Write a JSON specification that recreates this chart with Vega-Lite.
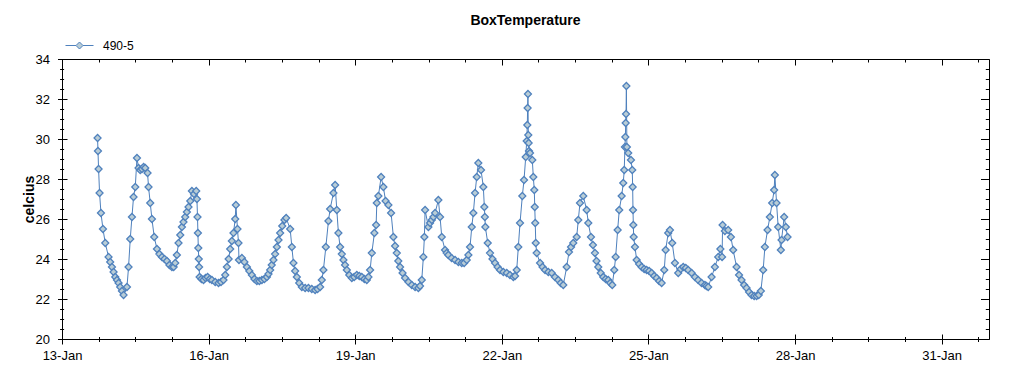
{
"$schema": "https://vega.github.io/schema/vega-lite/v6.json",
"autosize": {"type": "none"},
"padding": {"left": 62, "top": 59, "right": 35, "bottom": 36},
"width": 927, "height": 280,
"title": {"text": "BoxTemperature", "fontSize": 14, "fontWeight": "bold", "font": "Liberation Sans", "color": "#000000", "anchor": "middle", "offset": 3},
"config": {
  "view": {"stroke": "#000000", "strokeWidth": 1},
  "axis": {"grid": false, "domain": false, "tickColor": "#000000", "tickWidth": 1, "labelColor": "#000000", "labelFont": "Liberation Sans", "labelFontSize": 13, "titleFont": "Liberation Sans", "titleColor": "#000000"},
  "font": "Liberation Sans"
},
"data": {"values": [
{"t":"2020-01-13T17:28Z","v":30.05},{"t":"2020-01-13T17:40Z","v":29.4},{"t":"2020-01-13T17:58Z","v":28.5},{"t":"2020-01-13T18:27Z","v":27.3},{"t":"2020-01-13T19:08Z","v":26.3},{"t":"2020-01-13T20:07Z","v":25.5},{"t":"2020-01-13T21:15Z","v":24.8},{"t":"2020-01-13T22:52Z","v":24.1},{"t":"2020-01-13T23:40Z","v":23.85},
{"t":"2020-01-14T00:32Z","v":23.6},{"t":"2020-01-14T01:20Z","v":23.35},{"t":"2020-01-14T02:10Z","v":23.1},{"t":"2020-01-14T03:00Z","v":22.95},{"t":"2020-01-14T03:47Z","v":22.8},{"t":"2020-01-14T04:35Z","v":22.6},{"t":"2020-01-14T05:27Z","v":22.4},{"t":"2020-01-14T06:14Z","v":22.2},{"t":"2020-01-14T07:54Z","v":22.6},{"t":"2020-01-14T08:41Z","v":23.6},{"t":"2020-01-14T09:31Z","v":25.0},{"t":"2020-01-14T10:21Z","v":26.1},{"t":"2020-01-14T11:08Z","v":27.1},{"t":"2020-01-14T11:59Z","v":27.6},{"t":"2020-01-14T12:49Z","v":29.05},{"t":"2020-01-14T13:36Z","v":28.55},{"t":"2020-01-14T14:25Z","v":28.45},{"t":"2020-01-14T15:16Z","v":28.5},{"t":"2020-01-14T16:05Z","v":28.6},{"t":"2020-01-14T16:53Z","v":28.55},{"t":"2020-01-14T18:01Z","v":28.3},{"t":"2020-01-14T18:30Z","v":27.6},{"t":"2020-01-14T19:20Z","v":26.8},{"t":"2020-01-14T20:10Z","v":26.0},{"t":"2020-01-14T21:18Z","v":25.1},{"t":"2020-01-14T22:38Z","v":24.5},{"t":"2020-01-14T23:50Z","v":24.25},
{"t":"2020-01-15T01:05Z","v":24.1},{"t":"2020-01-15T02:20Z","v":24.0},{"t":"2020-01-15T03:32Z","v":23.9},{"t":"2020-01-15T04:45Z","v":23.7},{"t":"2020-01-15T05:59Z","v":23.6},{"t":"2020-01-15T06:50Z","v":23.6},{"t":"2020-01-15T07:37Z","v":23.8},{"t":"2020-01-15T08:25Z","v":24.2},{"t":"2020-01-15T09:14Z","v":24.8},{"t":"2020-01-15T10:05Z","v":25.2},{"t":"2020-01-15T10:54Z","v":25.6},{"t":"2020-01-15T11:40Z","v":25.85},{"t":"2020-01-15T12:31Z","v":26.1},{"t":"2020-01-15T13:20Z","v":26.35},{"t":"2020-01-15T14:08Z","v":26.6},{"t":"2020-01-15T15:00Z","v":26.9},{"t":"2020-01-15T15:48Z","v":27.4},{"t":"2020-01-15T16:50Z","v":27.25},{"t":"2020-01-15T17:55Z","v":27.4},{"t":"2020-01-15T18:16Z","v":27.0},{"t":"2020-01-15T18:33Z","v":26.1},{"t":"2020-01-15T18:45Z","v":25.3},{"t":"2020-01-15T18:57Z","v":24.55},{"t":"2020-01-15T19:10Z","v":24.0},{"t":"2020-01-15T19:20Z","v":23.6},{"t":"2020-01-15T19:35Z","v":23.1},{"t":"2020-01-15T20:30Z","v":23.0},{"t":"2020-01-15T21:30Z","v":22.95},{"t":"2020-01-15T22:30Z","v":23.05},{"t":"2020-01-15T23:30Z","v":23.1},
{"t":"2020-01-16T00:35Z","v":23.0},{"t":"2020-01-16T01:37Z","v":22.95},{"t":"2020-01-16T03:15Z","v":22.85},{"t":"2020-01-16T04:52Z","v":22.8},{"t":"2020-01-16T06:05Z","v":22.85},{"t":"2020-01-16T07:19Z","v":22.95},{"t":"2020-01-16T08:10Z","v":23.2},{"t":"2020-01-16T08:59Z","v":23.6},{"t":"2020-01-16T09:50Z","v":24.0},{"t":"2020-01-16T10:36Z","v":24.5},{"t":"2020-01-16T11:25Z","v":24.9},{"t":"2020-01-16T12:13Z","v":25.3},{"t":"2020-01-16T13:04Z","v":26.0},{"t":"2020-01-16T13:24Z","v":26.7},{"t":"2020-01-16T14:11Z","v":25.5},{"t":"2020-01-16T14:41Z","v":24.8},{"t":"2020-01-16T14:55Z","v":23.95},{"t":"2020-01-16T16:21Z","v":24.05},{"t":"2020-01-16T17:35Z","v":23.85},{"t":"2020-01-16T18:48Z","v":23.6},{"t":"2020-01-16T20:00Z","v":23.4},{"t":"2020-01-16T21:15Z","v":23.2},{"t":"2020-01-16T22:30Z","v":23.0},{"t":"2020-01-16T23:42Z","v":22.9},
{"t":"2020-01-17T00:55Z","v":22.9},{"t":"2020-01-17T02:10Z","v":22.95},{"t":"2020-01-17T03:25Z","v":23.0},{"t":"2020-01-17T04:37Z","v":23.1},{"t":"2020-01-17T05:25Z","v":23.25},{"t":"2020-01-17T06:14Z","v":23.45},{"t":"2020-01-17T07:00Z","v":23.7},{"t":"2020-01-17T07:51Z","v":23.95},{"t":"2020-01-17T08:40Z","v":24.25},{"t":"2020-01-17T09:31Z","v":24.6},{"t":"2020-01-17T10:20Z","v":24.95},{"t":"2020-01-17T11:08Z","v":25.3},{"t":"2020-01-17T12:10Z","v":25.65},{"t":"2020-01-17T13:15Z","v":25.95},{"t":"2020-01-17T14:05Z","v":26.05},{"t":"2020-01-17T16:03Z","v":25.5},{"t":"2020-01-17T16:53Z","v":24.6},{"t":"2020-01-17T17:40Z","v":23.8},{"t":"2020-01-17T18:30Z","v":23.4},{"t":"2020-01-17T19:20Z","v":23.1},{"t":"2020-01-17T20:30Z","v":22.8},{"t":"2020-01-17T21:47Z","v":22.6},{"t":"2020-01-17T23:25Z","v":22.55},
{"t":"2020-01-18T01:02Z","v":22.55},{"t":"2020-01-18T02:40Z","v":22.5},{"t":"2020-01-18T04:19Z","v":22.45},{"t":"2020-01-18T05:30Z","v":22.5},{"t":"2020-01-18T06:46Z","v":22.6},{"t":"2020-01-18T07:35Z","v":22.95},{"t":"2020-01-18T08:23Z","v":23.45},{"t":"2020-01-18T09:34Z","v":24.6},{"t":"2020-01-18T10:51Z","v":25.9},{"t":"2020-01-18T11:41Z","v":26.5},{"t":"2020-01-18T13:18Z","v":27.3},{"t":"2020-01-18T14:08Z","v":27.7},{"t":"2020-01-18T14:58Z","v":26.45},{"t":"2020-01-18T15:45Z","v":25.3},{"t":"2020-01-18T16:35Z","v":24.6},{"t":"2020-01-18T17:25Z","v":24.25},{"t":"2020-01-18T18:13Z","v":23.95},{"t":"2020-01-18T19:00Z","v":23.7},{"t":"2020-01-18T19:53Z","v":23.45},{"t":"2020-01-18T21:05Z","v":23.2},{"t":"2020-01-18T22:20Z","v":23.05},{"t":"2020-01-18T23:30Z","v":23.1},
{"t":"2020-01-19T00:47Z","v":23.2},{"t":"2020-01-19T02:00Z","v":23.15},{"t":"2020-01-19T03:14Z","v":23.1},{"t":"2020-01-19T04:30Z","v":23.0},{"t":"2020-01-19T05:41Z","v":22.95},{"t":"2020-01-19T06:30Z","v":23.1},{"t":"2020-01-19T07:19Z","v":23.45},{"t":"2020-01-19T08:09Z","v":24.3},{"t":"2020-01-19T09:25Z","v":25.3},{"t":"2020-01-19T10:16Z","v":25.7},{"t":"2020-01-19T10:36Z","v":26.8},{"t":"2020-01-19T11:23Z","v":27.15},{"t":"2020-01-19T12:43Z","v":28.1},{"t":"2020-01-19T13:50Z","v":27.6},{"t":"2020-01-19T14:55Z","v":26.9},{"t":"2020-01-19T16:18Z","v":26.7},{"t":"2020-01-19T17:37Z","v":26.3},{"t":"2020-01-19T18:45Z","v":25.1},{"t":"2020-01-19T19:35Z","v":24.65},{"t":"2020-01-19T20:25Z","v":24.3},{"t":"2020-01-19T21:10Z","v":23.9},{"t":"2020-01-19T22:02Z","v":23.6},{"t":"2020-01-19T23:15Z","v":23.3},
{"t":"2020-01-20T00:29Z","v":23.05},{"t":"2020-01-20T02:10Z","v":22.85},{"t":"2020-01-20T03:47Z","v":22.7},{"t":"2020-01-20T05:25Z","v":22.6},{"t":"2020-01-20T07:01Z","v":22.55},{"t":"2020-01-20T07:50Z","v":22.65},{"t":"2020-01-20T08:41Z","v":22.95},{"t":"2020-01-20T09:28Z","v":24.1},{"t":"2020-01-20T09:58Z","v":25.1},{"t":"2020-01-20T10:19Z","v":26.45},{"t":"2020-01-20T11:56Z","v":25.6},{"t":"2020-01-20T12:45Z","v":25.8},{"t":"2020-01-20T13:36Z","v":25.95},{"t":"2020-01-20T14:25Z","v":26.1},{"t":"2020-01-20T15:13Z","v":26.3},{"t":"2020-01-20T16:50Z","v":26.95},{"t":"2020-01-20T17:40Z","v":26.1},{"t":"2020-01-20T18:30Z","v":25.1},{"t":"2020-01-20T20:07Z","v":24.45},{"t":"2020-01-20T20:55Z","v":24.3},{"t":"2020-01-20T21:44Z","v":24.2},{"t":"2020-01-20T23:20Z","v":24.05},
{"t":"2020-01-21T01:02Z","v":23.95},{"t":"2020-01-21T02:40Z","v":23.85},{"t":"2020-01-21T04:19Z","v":23.8},{"t":"2020-01-21T05:30Z","v":23.8},{"t":"2020-01-21T06:46Z","v":23.95},{"t":"2020-01-21T07:35Z","v":24.2},{"t":"2020-01-21T08:23Z","v":24.6},{"t":"2020-01-21T09:14Z","v":25.6},{"t":"2020-01-21T10:01Z","v":26.3},{"t":"2020-01-21T10:51Z","v":27.3},{"t":"2020-01-21T11:41Z","v":28.1},{"t":"2020-01-21T12:28Z","v":28.8},{"t":"2020-01-21T13:47Z","v":28.45},{"t":"2020-01-21T14:55Z","v":27.6},{"t":"2020-01-21T15:25Z","v":26.6},{"t":"2020-01-21T15:40Z","v":26.1},{"t":"2020-01-21T15:55Z","v":25.6},{"t":"2020-01-21T17:05Z","v":24.8},{"t":"2020-01-21T18:12Z","v":24.3},{"t":"2020-01-21T19:25Z","v":24.0},{"t":"2020-01-21T20:40Z","v":23.8},{"t":"2020-01-21T21:55Z","v":23.6},{"t":"2020-01-21T23:07Z","v":23.45},
{"t":"2020-01-22T00:45Z","v":23.35},{"t":"2020-01-22T02:25Z","v":23.3},{"t":"2020-01-22T04:00Z","v":23.2},{"t":"2020-01-22T05:39Z","v":23.1},{"t":"2020-01-22T06:30Z","v":23.15},{"t":"2020-01-22T07:19Z","v":23.45},{"t":"2020-01-22T08:06Z","v":24.6},{"t":"2020-01-22T08:56Z","v":25.8},{"t":"2020-01-22T10:04Z","v":27.15},{"t":"2020-01-22T10:54Z","v":27.95},{"t":"2020-01-22T11:44Z","v":29.1},{"t":"2020-01-22T12:13Z","v":29.9},{"t":"2020-01-22T12:31Z","v":30.7},{"t":"2020-01-22T12:40Z","v":31.55},{"t":"2020-01-22T12:50Z","v":32.25},{"t":"2020-01-22T13:00Z","v":30.2},{"t":"2020-01-22T13:10Z","v":29.8},{"t":"2020-01-22T13:20Z","v":29.4},{"t":"2020-01-22T13:50Z","v":29.3},{"t":"2020-01-22T14:58Z","v":28.95},{"t":"2020-01-22T15:28Z","v":28.1},{"t":"2020-01-22T15:57Z","v":27.45},{"t":"2020-01-22T16:10Z","v":26.6},{"t":"2020-01-22T16:25Z","v":25.8},{"t":"2020-01-22T16:40Z","v":24.8},{"t":"2020-01-22T17:07Z","v":24.3},{"t":"2020-01-22T18:47Z","v":23.8},{"t":"2020-01-22T20:00Z","v":23.6},{"t":"2020-01-22T21:14Z","v":23.45},{"t":"2020-01-22T22:50Z","v":23.35},
{"t":"2020-01-23T00:29Z","v":23.3},{"t":"2020-01-23T02:05Z","v":23.1},{"t":"2020-01-23T03:44Z","v":22.95},{"t":"2020-01-23T04:55Z","v":22.8},{"t":"2020-01-23T06:11Z","v":22.7},{"t":"2020-01-23T07:51Z","v":23.6},{"t":"2020-01-23T08:59Z","v":24.35},{"t":"2020-01-23T10:00Z","v":24.6},{"t":"2020-01-23T11:05Z","v":24.8},{"t":"2020-01-23T12:46Z","v":25.1},{"t":"2020-01-23T13:33Z","v":25.95},{"t":"2020-01-23T14:23Z","v":26.8},{"t":"2020-01-23T16:00Z","v":27.15},{"t":"2020-01-23T17:40Z","v":26.45},{"t":"2020-01-23T18:28Z","v":25.8},{"t":"2020-01-23T19:47Z","v":25.1},{"t":"2020-01-23T20:45Z","v":24.7},{"t":"2020-01-23T21:44Z","v":24.3},{"t":"2020-01-23T22:30Z","v":23.9},{"t":"2020-01-23T23:22Z","v":23.6},
{"t":"2020-01-24T00:35Z","v":23.3},{"t":"2020-01-24T01:49Z","v":23.1},{"t":"2020-01-24T03:00Z","v":23.0},{"t":"2020-01-24T04:16Z","v":22.95},{"t":"2020-01-24T05:15Z","v":22.8},{"t":"2020-01-24T06:14Z","v":22.7},{"t":"2020-01-24T07:13Z","v":23.45},{"t":"2020-01-24T07:54Z","v":24.1},{"t":"2020-01-24T08:53Z","v":25.45},{"t":"2020-01-24T09:40Z","v":26.45},{"t":"2020-01-24T10:51Z","v":27.15},{"t":"2020-01-24T11:38Z","v":27.8},{"t":"2020-01-24T12:07Z","v":28.45},{"t":"2020-01-24T12:28Z","v":29.6},{"t":"2020-01-24T12:40Z","v":30.1},{"t":"2020-01-24T12:50Z","v":30.8},{"t":"2020-01-24T13:00Z","v":31.25},{"t":"2020-01-24T13:10Z","v":32.65},{"t":"2020-01-24T13:25Z","v":29.6},{"t":"2020-01-24T14:05Z","v":29.3},{"t":"2020-01-24T15:25Z","v":28.95},{"t":"2020-01-24T16:03Z","v":28.45},{"t":"2020-01-24T16:15Z","v":27.6},{"t":"2020-01-24T16:25Z","v":26.45},{"t":"2020-01-24T16:35Z","v":25.7},{"t":"2020-01-24T16:45Z","v":25.1},{"t":"2020-01-24T17:23Z","v":24.6},{"t":"2020-01-24T18:13Z","v":23.95},{"t":"2020-01-24T19:25Z","v":23.75},{"t":"2020-01-24T20:40Z","v":23.6},{"t":"2020-01-24T21:55Z","v":23.5},{"t":"2020-01-24T23:07Z","v":23.45},
{"t":"2020-01-25T00:20Z","v":23.4},{"t":"2020-01-25T01:34Z","v":23.3},{"t":"2020-01-25T02:50Z","v":23.15},{"t":"2020-01-25T04:02Z","v":23.05},{"t":"2020-01-25T05:15Z","v":22.9},{"t":"2020-01-25T06:29Z","v":22.8},{"t":"2020-01-25T07:46Z","v":23.45},{"t":"2020-01-25T08:27Z","v":24.45},{"t":"2020-01-25T09:43Z","v":25.3},{"t":"2020-01-25T10:34Z","v":25.45},{"t":"2020-01-25T11:41Z","v":24.8},{"t":"2020-01-25T13:01Z","v":23.8},{"t":"2020-01-25T14:38Z","v":23.3},{"t":"2020-01-25T15:50Z","v":23.5},{"t":"2020-01-25T17:05Z","v":23.6},{"t":"2020-01-25T18:20Z","v":23.55},{"t":"2020-01-25T19:32Z","v":23.45},{"t":"2020-01-25T21:12Z","v":23.3},{"t":"2020-01-25T22:50Z","v":23.1},
{"t":"2020-01-26T00:26Z","v":22.95},{"t":"2020-01-26T02:05Z","v":22.8},{"t":"2020-01-26T03:44Z","v":22.7},{"t":"2020-01-26T04:30Z","v":22.65},{"t":"2020-01-26T05:21Z","v":22.6},{"t":"2020-01-26T07:01Z","v":23.1},{"t":"2020-01-26T08:38Z","v":23.6},{"t":"2020-01-26T10:16Z","v":24.1},{"t":"2020-01-26T11:20Z","v":24.5},{"t":"2020-01-26T12:10Z","v":24.1},{"t":"2020-01-26T12:25Z","v":25.7},{"t":"2020-01-26T13:33Z","v":25.4},{"t":"2020-01-26T15:10Z","v":25.45},{"t":"2020-01-26T16:30Z","v":25.1},{"t":"2020-01-26T17:37Z","v":24.45},{"t":"2020-01-26T19:17Z","v":23.6},{"t":"2020-01-26T20:30Z","v":23.2},{"t":"2020-01-26T21:44Z","v":22.95},{"t":"2020-01-26T23:00Z","v":22.7},
{"t":"2020-01-27T00:12Z","v":22.55},{"t":"2020-01-27T01:25Z","v":22.35},{"t":"2020-01-27T02:39Z","v":22.2},{"t":"2020-01-27T03:55Z","v":22.15},{"t":"2020-01-27T05:07Z","v":22.15},{"t":"2020-01-27T06:10Z","v":22.2},{"t":"2020-01-27T07:13Z","v":22.4},{"t":"2020-01-27T08:21Z","v":23.45},{"t":"2020-01-27T09:11Z","v":24.6},{"t":"2020-01-27T10:30Z","v":25.45},{"t":"2020-01-27T11:38Z","v":26.1},{"t":"2020-01-27T12:46Z","v":26.8},{"t":"2020-01-27T13:44Z","v":27.45},{"t":"2020-01-27T14:05Z","v":28.2},{"t":"2020-01-27T14:55Z","v":26.8},{"t":"2020-01-27T15:43Z","v":25.6},{"t":"2020-01-27T17:02Z","v":24.45},{"t":"2020-01-27T17:23Z","v":24.95},{"t":"2020-01-27T18:39Z","v":26.1},{"t":"2020-01-27T19:29Z","v":25.6},{"t":"2020-01-27T20:19Z","v":25.1}
]},
"layer": [
{
  "mark": {"type": "line", "strokeWidth": 1, "clip": true},
  "encoding": {
    "x": {"field": "t", "type": "temporal",
      "scale": {"type": "utc", "domain": [{"year": 2020, "month": 1, "date": 13, "utc": true}, {"year": 2020, "month": 1, "date": 31, "hours": 23, "minutes": 15, "utc": true}]},
      "axis": {"orient": "bottom", "offset": -5, "tickSize": 10, "labelPadding": 5, "labelFlush": false, "labelOverlap": false, "labelExpr": "utcFormat(datum.value, '%-d-%b')", "title": null,
        "values": [{"year":2020,"month":1,"date":13,"utc":true},{"year":2020,"month":1,"date":16,"utc":true},{"year":2020,"month":1,"date":19,"utc":true},{"year":2020,"month":1,"date":22,"utc":true},{"year":2020,"month":1,"date":25,"utc":true},{"year":2020,"month":1,"date":28,"utc":true},{"year":2020,"month":1,"date":31,"utc":true}]}},
    "y": {"field": "v", "type": "quantitative",
      "scale": {"domain": [20, 34], "nice": false, "zero": false},
      "axis": {"orient": "left", "offset": -5, "tickSize": 9.5, "labelPadding": 8, "values": [20, 22, 24, 26, 28, 30, 32, 34], "title": "celcius", "titleFontSize": 14, "titleFontWeight": "bold", "titleX": -34, "titleBaseline": "alphabetic", "titleAngle": 270}},
    "color": {"datum": "490-5", "type": "nominal", "scale": {"range": ["#4f81bd"]},
      "legend": {"title": null, "orient": "none", "legendX": 3, "legendY": -28, "padding": 0,
        "symbolType": "M-1,0H-0.25M0.25,0H1M0,-0.25L0.25,0L0,0.25L-0.25,0Z", "symbolSize": 784, "symbolStrokeWidth": 1,
        "symbolFillColor": "#b9cdd6", "symbolStrokeColor": "#4f81bd", "labelFont": "Liberation Sans", "labelFontSize": 12, "labelColor": "#000000", "labelOffset": 9,
        "encode": {"symbols": {"update": {"fill": {"value": "#b9cdd6"}, "stroke": {"value": "#4f81bd"}, "strokeWidth": {"value": 1}, "opacity": {"value": 1}}}}}}
  }
},
{
  "mark": {"type": "point", "shape": "diamond", "filled": true, "fill": "#b9cdd6", "stroke": "#4f81bd", "strokeWidth": 1.2, "size": 50, "opacity": 1, "clip": true},
  "encoding": {
    "x": {"field": "t", "type": "temporal",
      "axis": {"orient": "bottom", "offset": -2.5, "tickSize": 5, "labels": false, "title": null,
        "values": [{"year":2020,"month":1,"date":13,"hours":18,"utc":true},{"year":2020,"month":1,"date":14,"hours":12,"utc":true},{"year":2020,"month":1,"date":15,"hours":6,"utc":true},{"year":2020,"month":1,"date":16,"hours":18,"utc":true},{"year":2020,"month":1,"date":17,"hours":12,"utc":true},{"year":2020,"month":1,"date":18,"hours":6,"utc":true},{"year":2020,"month":1,"date":19,"hours":18,"utc":true},{"year":2020,"month":1,"date":20,"hours":12,"utc":true},{"year":2020,"month":1,"date":21,"hours":6,"utc":true},{"year":2020,"month":1,"date":22,"hours":18,"utc":true},{"year":2020,"month":1,"date":23,"hours":12,"utc":true},{"year":2020,"month":1,"date":24,"hours":6,"utc":true},{"year":2020,"month":1,"date":25,"hours":18,"utc":true},{"year":2020,"month":1,"date":26,"hours":12,"utc":true},{"year":2020,"month":1,"date":27,"hours":6,"utc":true},{"year":2020,"month":1,"date":28,"hours":18,"utc":true},{"year":2020,"month":1,"date":29,"hours":12,"utc":true},{"year":2020,"month":1,"date":30,"hours":6,"utc":true},{"year":2020,"month":1,"date":31,"hours":18,"utc":true}]}},
    "y": {"field": "v", "type": "quantitative",
      "axis": {"orient": "left", "offset": -1.6, "tickSize": 4, "labels": false, "title": null,
        "values": [20.5, 21, 21.5, 22.5, 23, 23.5, 24.5, 25, 25.5, 26.5, 27, 27.5, 28.5, 29, 29.5, 30.5, 31, 31.5, 32.5, 33, 33.5]}}
  }
},
{
  "mark": {"type": "point", "opacity": 0},
  "encoding": {
    "x": {"field": "t", "type": "temporal",
      "axis": {"orient": "top", "offset": -6, "tickSize": 6, "labels": false, "title": null,
        "values": [{"year":2020,"month":1,"date":13,"utc":true},{"year":2020,"month":1,"date":16,"utc":true},{"year":2020,"month":1,"date":19,"utc":true},{"year":2020,"month":1,"date":22,"utc":true},{"year":2020,"month":1,"date":25,"utc":true},{"year":2020,"month":1,"date":28,"utc":true},{"year":2020,"month":1,"date":31,"utc":true}]}},
    "y": {"field": "v", "type": "quantitative",
      "axis": {"orient": "right", "offset": -8.5, "tickSize": 8.5, "labels": false, "title": null, "values": [20, 22, 24, 26, 28, 30, 32, 34]}}
  }
},
{
  "mark": {"type": "point", "opacity": 0},
  "encoding": {
    "x": {"field": "t", "type": "temporal",
      "axis": {"orient": "top", "offset": -3, "tickSize": 3, "labels": false, "title": null,
        "values": [{"year":2020,"month":1,"date":13,"hours":18,"utc":true},{"year":2020,"month":1,"date":14,"hours":12,"utc":true},{"year":2020,"month":1,"date":15,"hours":6,"utc":true},{"year":2020,"month":1,"date":16,"hours":18,"utc":true},{"year":2020,"month":1,"date":17,"hours":12,"utc":true},{"year":2020,"month":1,"date":18,"hours":6,"utc":true},{"year":2020,"month":1,"date":19,"hours":18,"utc":true},{"year":2020,"month":1,"date":20,"hours":12,"utc":true},{"year":2020,"month":1,"date":21,"hours":6,"utc":true},{"year":2020,"month":1,"date":22,"hours":18,"utc":true},{"year":2020,"month":1,"date":23,"hours":12,"utc":true},{"year":2020,"month":1,"date":24,"hours":6,"utc":true},{"year":2020,"month":1,"date":25,"hours":18,"utc":true},{"year":2020,"month":1,"date":26,"hours":12,"utc":true},{"year":2020,"month":1,"date":27,"hours":6,"utc":true},{"year":2020,"month":1,"date":28,"hours":18,"utc":true},{"year":2020,"month":1,"date":29,"hours":12,"utc":true},{"year":2020,"month":1,"date":30,"hours":6,"utc":true},{"year":2020,"month":1,"date":31,"hours":18,"utc":true}]}},
    "y": {"field": "v", "type": "quantitative",
      "axis": {"orient": "right", "offset": -3.7, "tickSize": 3.7, "labels": false, "title": null,
        "values": [20.5, 21, 21.5, 22.5, 23, 23.5, 24.5, 25, 25.5, 26.5, 27, 27.5, 28.5, 29, 29.5, 30.5, 31, 31.5, 32.5, 33, 33.5]}}
  }
}
],
"resolve": {"scale": {"x": "shared", "y": "shared"}, "axis": {"x": "independent", "y": "independent"}}
}
